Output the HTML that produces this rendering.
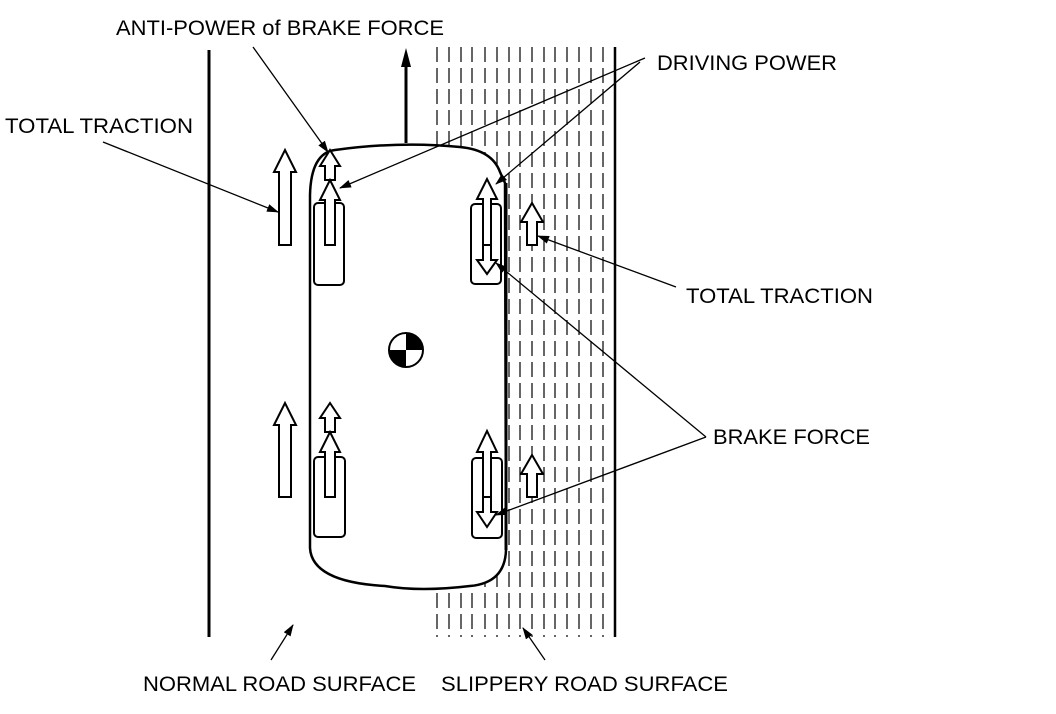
<!DOCTYPE html>
<html><head><meta charset="utf-8"><style>
html,body{margin:0;padding:0;background:#fff}
svg{display:block}
text{font-family:"Liberation Sans",Arial,sans-serif;font-size:21px;fill:#000}
</style></head><body>
<svg width="1056" height="714" viewBox="0 0 1056 714" xmlns="http://www.w3.org/2000/svg">
<defs>
<marker id="ah" markerWidth="12" markerHeight="8" refX="11" refY="4" orient="auto" markerUnits="userSpaceOnUse">
<path d="M0,0 L12,4 L0,8 Z" fill="#000"/>
</marker>
</defs>
<line x1="209" y1="50" x2="209" y2="637" stroke="#000" stroke-width="3"/>
<g stroke="#000" stroke-width="1.2" stroke-dasharray="15,6">
<line x1="437" y1="47" x2="437" y2="637"/>
<line x1="449" y1="47" x2="449" y2="637"/>
<line x1="461" y1="47" x2="461" y2="637"/>
<line x1="472" y1="47" x2="472" y2="637"/>
<line x1="485" y1="47" x2="485" y2="637"/>
<line x1="497" y1="47" x2="497" y2="637"/>
<line x1="509" y1="47" x2="509" y2="637"/>
<line x1="520" y1="47" x2="520" y2="637"/>
<line x1="532" y1="47" x2="532" y2="637"/>
<line x1="544" y1="47" x2="544" y2="637"/>
<line x1="555" y1="47" x2="555" y2="637"/>
<line x1="567" y1="47" x2="567" y2="637"/>
<line x1="579" y1="47" x2="579" y2="637"/>
<line x1="591" y1="47" x2="591" y2="637"/>
<line x1="603" y1="47" x2="603" y2="637"/>
</g>
<line x1="615" y1="47" x2="615" y2="637" stroke="#000" stroke-width="2.5"/>

<path d="M310,548 L310,195 Q311,153 335,150 Q400,141 460,147 Q492,150 500,172 L505,183 L506,550 Q505,583 470,586 Q420,592 385,586 Q312,582 310,548 Z" fill="#fff" stroke="#000" stroke-width="2.5"/>
<line x1="506" y1="183" x2="506" y2="550" stroke="#000" stroke-width="3"/>
<line x1="406" y1="143" x2="406" y2="65" stroke="#000" stroke-width="3"/>
<path d="M401,67 L406,48 L411,67 Z" fill="#000"/>

<g fill="none" stroke="#000" stroke-width="2">
<rect x="314" y="203" width="30" height="82" rx="4"/>
<rect x="471" y="204" width="30" height="80" rx="4"/>
<rect x="314" y="457" width="31" height="80" rx="4"/>
<rect x="472" y="458" width="30" height="80" rx="4"/>
</g>

<g fill="#fff" stroke="#000" stroke-width="2" stroke-linejoin="miter">
<path d="M279,245 L279,172 L274,172 L285,150 L296,172 L291,172 L291,245 Z"/>
<path d="M279,497 L279,425 L274,425 L285,403 L296,425 L291,425 L291,497 Z"/>
<path d="M325,180 L325,166 L320,166 L330,150 L340,166 L335,166 L335,180 Z"/>
<path d="M325,245 L325,200 L320,200 L330,180 L340,200 L335,200 L335,245 Z"/>
<path d="M325,432 L325,418 L320,418 L330,403 L340,418 L335,418 L335,432 Z"/>
<path d="M325,497 L325,452 L320,452 L330,432 L340,452 L335,452 L335,497 Z"/>
<path d="M483,245 L483,199 L477,199 L487,179 L497,199 L491,199 L491,245 Z"/>
<path d="M483,245 L483,260 L477,260 L487,274 L497,260 L491,260 L491,245 Z"/>
<path d="M483,497 L483,452 L477,452 L487,431 L497,452 L491,452 L491,497 Z"/>
<path d="M483,497 L483,512 L477,512 L487,527 L497,512 L491,512 L491,497 Z"/>
<path d="M527,245 L527,222 L521,222 L532,203 L543,222 L537,222 L537,245 Z"/>
<path d="M527,497 L527,474 L521,474 L532,455 L543,474 L537,474 L537,497 Z"/>
</g>

<circle cx="406" cy="350" r="17" fill="#fff" stroke="#000" stroke-width="2"/>
<path d="M406,350 L406,333 A17,17 0 0 1 423,350 Z" fill="#000"/>
<path d="M406,350 L406,367 A17,17 0 0 1 389,350 Z" fill="#000"/>

<g stroke="#000" stroke-width="1.3" fill="none" marker-end="url(#ah)">
<line x1="253" y1="47" x2="328" y2="152"/>
<line x1="103" y1="142" x2="278" y2="212"/>
<line x1="645" y1="58" x2="340" y2="188"/>
<line x1="640" y1="62" x2="496" y2="184"/>
<line x1="676" y1="287" x2="538" y2="236"/>
<line x1="706" y1="437" x2="496" y2="263"/>
<line x1="706" y1="437" x2="496" y2="515"/>
<line x1="271" y1="660" x2="293" y2="625"/>
<line x1="545" y1="660" x2="523" y2="628"/>
</g>

<text x="116" y="35" textLength="328" lengthAdjust="spacingAndGlyphs">ANTI-POWER of BRAKE FORCE</text>
<text x="5" y="133" textLength="188" lengthAdjust="spacingAndGlyphs">TOTAL TRACTION</text>
<text x="657" y="70" textLength="180" lengthAdjust="spacingAndGlyphs">DRIVING POWER</text>
<text x="686" y="303" textLength="187" lengthAdjust="spacingAndGlyphs">TOTAL TRACTION</text>
<text x="713" y="444" textLength="157" lengthAdjust="spacingAndGlyphs">BRAKE FORCE</text>
<text x="143" y="691" textLength="273" lengthAdjust="spacingAndGlyphs">NORMAL ROAD SURFACE</text>
<text x="441" y="691" textLength="287" lengthAdjust="spacingAndGlyphs">SLIPPERY ROAD SURFACE</text>
</svg>
</body></html>
